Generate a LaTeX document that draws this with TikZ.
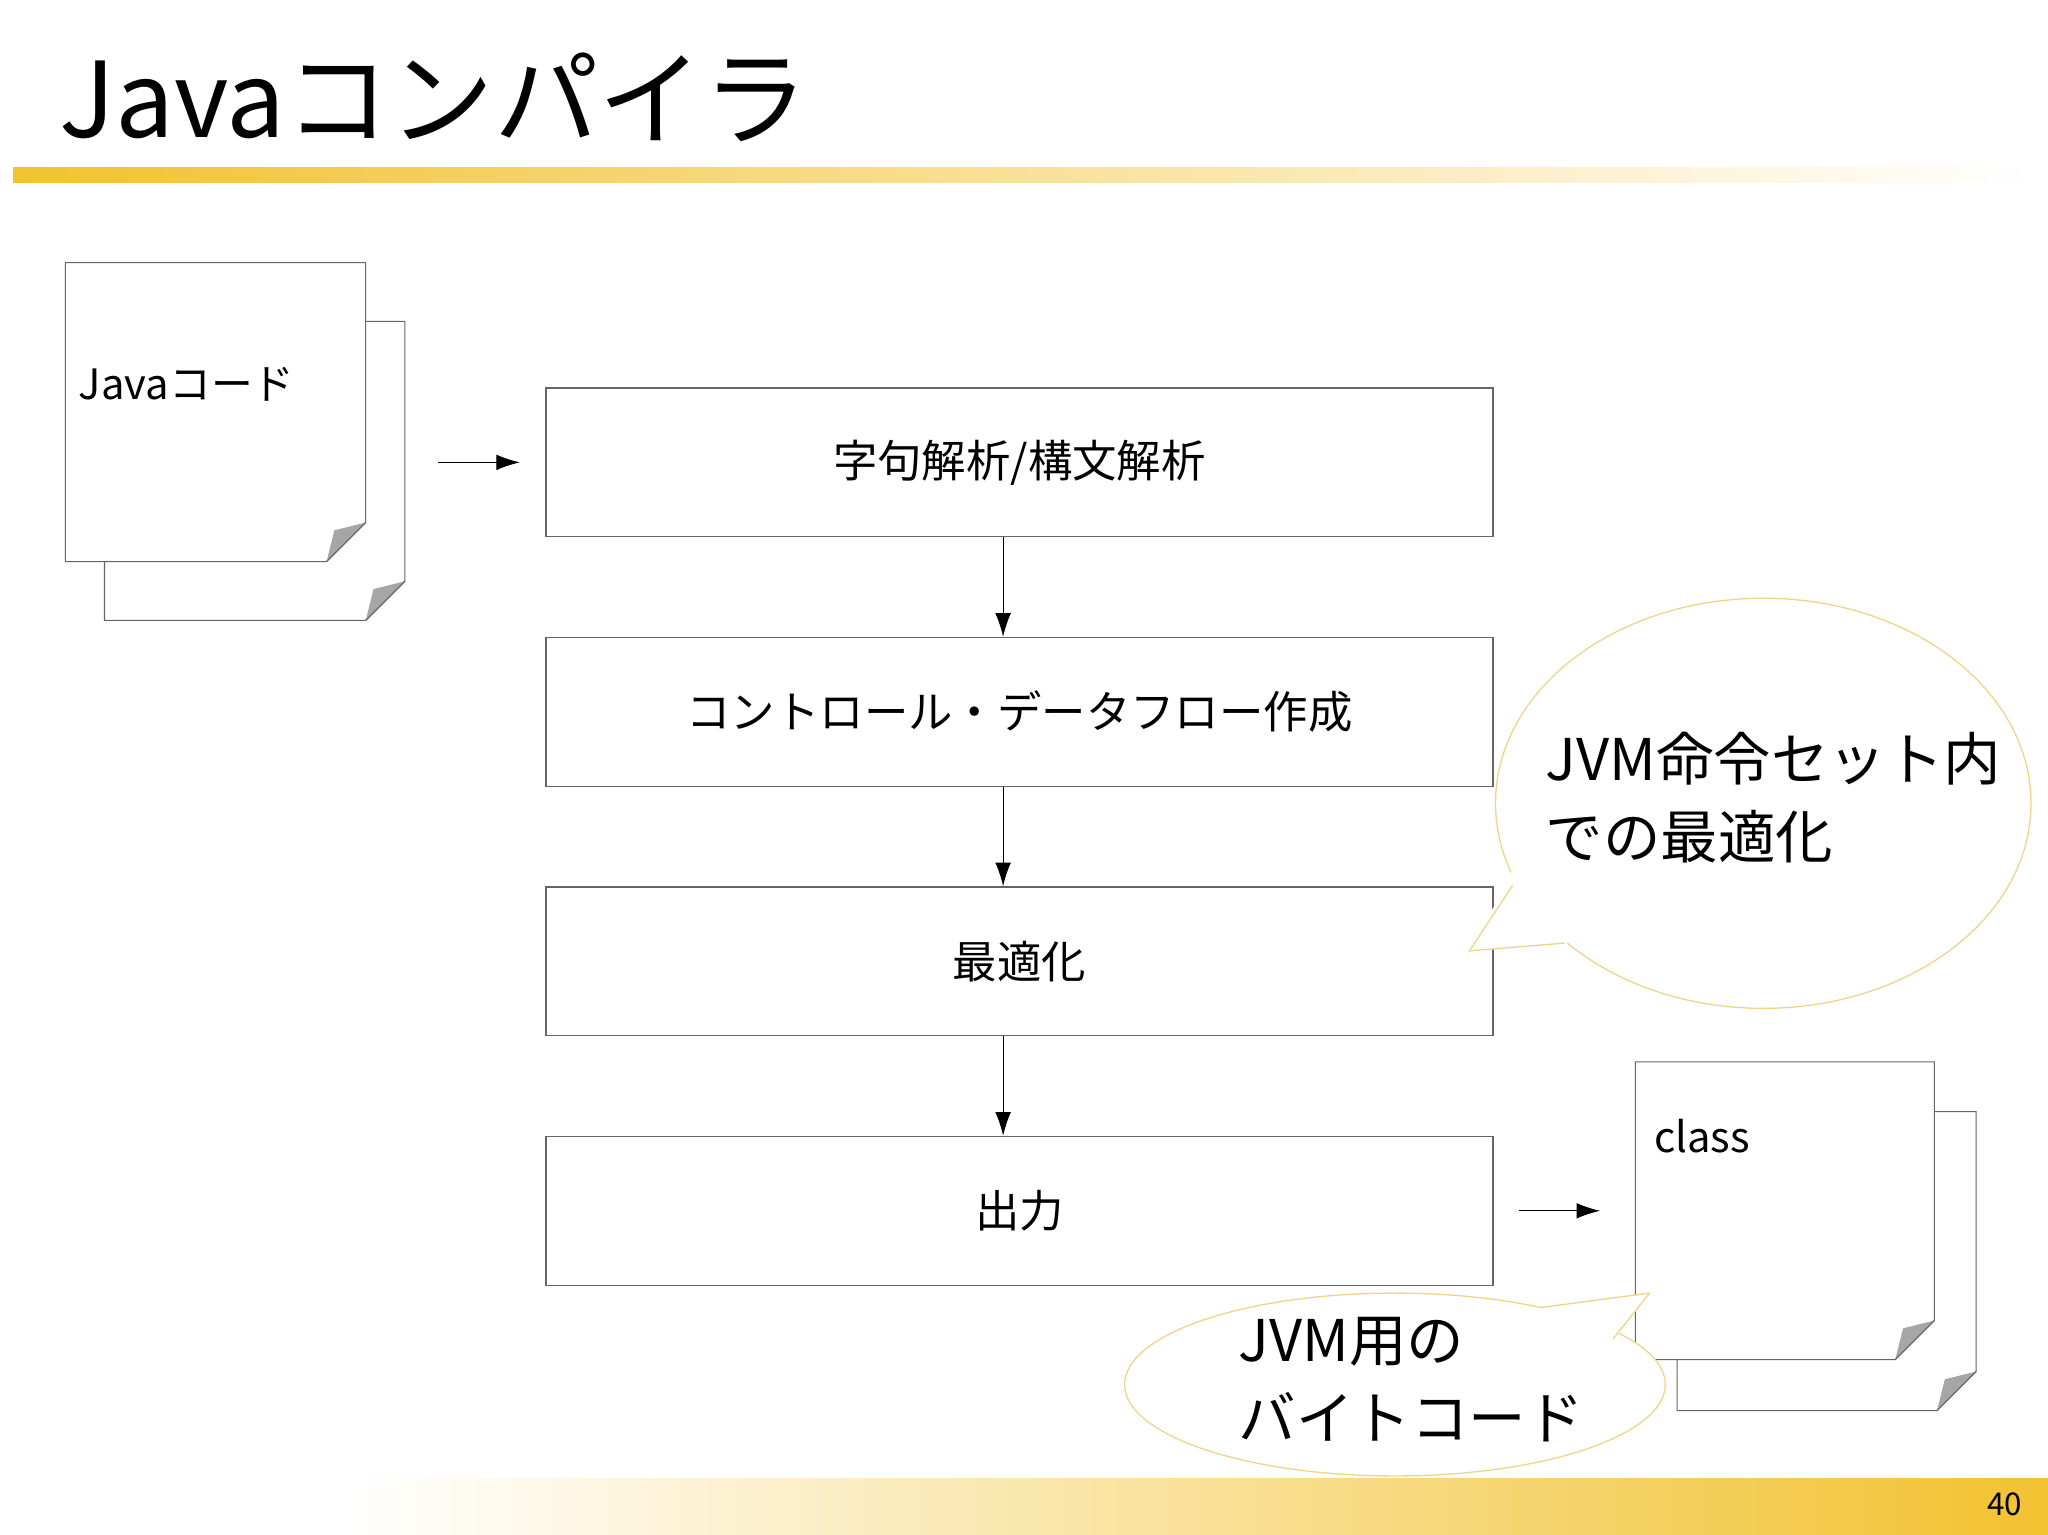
\documentclass[tikz,border=0pt]{standalone}
\usepackage{fontspec}
\setmainfont{Noto Sans CJK JP}
\usetikzlibrary{arrows.meta,shapes.geometric}
\definecolor{gold}{HTML}{F2C230}
\definecolor{callc}{HTML}{F0D48A}
\tikzset{
 stepbox/.style={draw=black!60,line width=0.5pt,minimum width=362.5pt,minimum height=57pt,font=\fontsize{17}{20}\selectfont},
 arr/.style={-{Latex[length=9pt,width=6pt]},line width=0.4pt},
 paper/.style={draw=black!60,fill=white,line width=0.4pt},
 call/.style={draw=callc,fill=white,line width=0.5pt},
 ctext/.style={font=\fontsize{22}{30}\selectfont,align=left,anchor=north west,inner sep=0pt}
}
\newcommand{\paperdoc}[5]{% x1 y1 x2 y2 f
 \draw[paper] (#1,#2)--(#3,#2)--(#3,#4-#5)--(#3-#5,#4)--(#1,#4)--cycle;
 \fill[black!35] (#3,#4-#5)--(#3-#5,#4)--(#3-#5+6,#4-#5+6)--cycle;
 \draw[black!60,line width=0.4pt] (#3,#4-#5)--(#3-#5,#4);}
\begin{document}
\begin{tikzpicture}[x=0.5pt,y=-0.5pt]
\useasboundingbox (0,0) rectangle (1568,1175);
\fill[white] (0,0) rectangle (1568,1175);
% title
\node[anchor=base west,inner sep=0pt,font=\fontsize{40}{48}\selectfont] (title) at (45,105) {Javaコンパイラ};
\shade[left color=gold,right color=white] (10,128) rectangle (1560,140);
\shade[left color=white,right color=gold] (270,1132) rectangle (1568,1175);
\node[font=\fontsize{12}{14}\selectfont] (pg) at (1535,1152) {40};
% java doc
\paperdoc{80}{246}{310}{475}{30}
\paperdoc{50}{201}{280}{430}{30}
\node[anchor=base west,inner sep=0pt,font=\fontsize{16}{20}\selectfont] (jc) at (60,306) {Javaコード};
\coordinate (a1) at (335,354); \coordinate (a2) at (398,354);
\draw[arr] (a1) -- (a2);
% boxes
\node[stepbox] (b1) at (780.5,354) {字句解析/構文解析};
\node[stepbox] (b2) at (780.5,545) {コントロール・データフロー作成};
\node[stepbox] (b3) at (780.5,736) {最適化};
\node[stepbox] (b4) at (780.5,927) {出力};
\draw[arr] (b1.south -| 768,0) -- (b2.north -| 768,0);
\draw[arr] (b2.south -| 768,0) -- (b3.north -| 768,0);
\draw[arr] (b3.south -| 768,0) -- (b4.north -| 768,0);
% callout 1
\draw[call] (1350,615) ellipse [x radius=205, y radius=157];
\fill[white] (1156,672)--(1125,728)--(1200,722)--(1215,700)--(1165,640)--cycle;
\draw[callc,line width=0.5pt] (1158,678)--(1125,728)--(1198,722);
\node[ctext] (c1) at (1183,560) {JVM命令セット内\\での最適化};
% output arrow and class doc
\coordinate (a3) at (1163,927); \coordinate (a4) at (1225,927);
\draw[arr] (a3) -- (a4);
\paperdoc{1284}{851}{1513}{1080}{30}
\paperdoc{1252}{813}{1481}{1041}{30}
\node[anchor=base west,inner sep=0pt,font=\fontsize{16}{20}\selectfont] (cl) at (1266,882) {class};
% callout 2
\draw[call] (1068,1060) ellipse [x radius=207, y radius=70];
\fill[white] (1180,1001)--(1263,990)--(1237,1024)--(1230,1040)--(1170,1010)--cycle;
\draw[callc,line width=0.5pt] (1180,1001)--(1263,990)--(1235,1025);
\node[ctext] (c2) at (948,1008) {JVM用の\\バイトコード};
\end{tikzpicture}
\end{document}
